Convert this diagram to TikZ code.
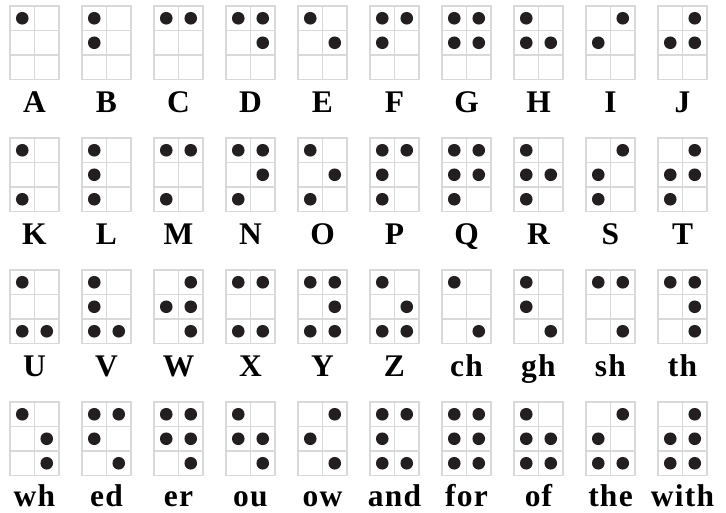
\documentclass[tikz,border=0pt]{standalone}
\usepackage{fontspec}
\setmainfont{Liberation Serif}
\newfontfamily\labfont[LetterSpace=4]{Liberation Serif}
\definecolor{gridgray}{HTML}{D9D9D9}
\definecolor{dotblack}{HTML}{231F20}
\begin{document}
\begin{tikzpicture}[x=1pt,y=-1pt,
  gridline/.style={draw=gridgray,line width=1.4pt},
  brdot/.style={fill=dotblack,draw=none},
  lab/.style={font=\labfont\fontsize{31.5}{31.5}\selectfont\bfseries,anchor=base,inner sep=0pt}]
\useasboundingbox (0,0) rectangle (726,512);
\foreach \lab/\dts [count=\i from 0] in {
  A/{1},B/{1,2},C/{1,4},D/{1,4,5},E/{1,5},F/{1,2,4},G/{1,2,4,5},H/{1,2,5},I/{2,4},J/{2,4,5},
  K/{1,3},L/{1,2,3},M/{1,3,4},N/{1,3,4,5},O/{1,3,5},P/{1,2,3,4},Q/{1,2,3,4,5},R/{1,2,3,5},S/{2,3,4},T/{2,3,4,5},
  U/{1,3,6},V/{1,2,3,6},W/{2,4,5,6},X/{1,3,4,6},Y/{1,3,4,5,6},Z/{1,3,5,6},ch/{1,6},gh/{1,2,6},sh/{1,4,6},th/{1,4,5,6},
  wh/{1,5,6},ed/{1,2,4,6},er/{1,2,4,5,6},ou/{1,2,5,6},ow/{2,4,6},and/{1,2,3,4,6},for/{1,2,3,4,5,6},of/{1,2,3,5,6},the/{2,3,4,6},with/{2,3,4,5,6}}
{
  \pgfmathtruncatemacro\cc{mod(\i,10)}
  \pgfmathtruncatemacro\rr{int(\i/10)}
  \pgfmathsetmacro\xo{10+72*\cc}
  \pgfmathsetmacro\yo{6+132*\rr}
  \pgfmathsetmacro\lo{\rr==3 ? 104.5 : 106}
  \draw[gridline] (\xo,\yo) rectangle ++(49,73.5);
  \draw[gridline] (\xo+24.5,\yo) -- ++(0,73.5);
  \draw[gridline] (\xo,\yo+24.5) -- ++(49,0);
  \draw[gridline] (\xo,\yo+49) -- ++(49,0);
  \foreach \d in \dts {
    \pgfmathtruncatemacro\dc{\d>3 ? 1 : 0}
    \pgfmathtruncatemacro\dr{\d>3 ? \d-4 : \d-1}
    \fill[brdot] (\xo+12.25+24.5*\dc,\yo+12.25+24.5*\dr) circle (6.3);
  }
  \node[lab] (L\i) at (\xo+24.5,\yo+\lo) {\lab};
}
\end{tikzpicture}
\end{document}
